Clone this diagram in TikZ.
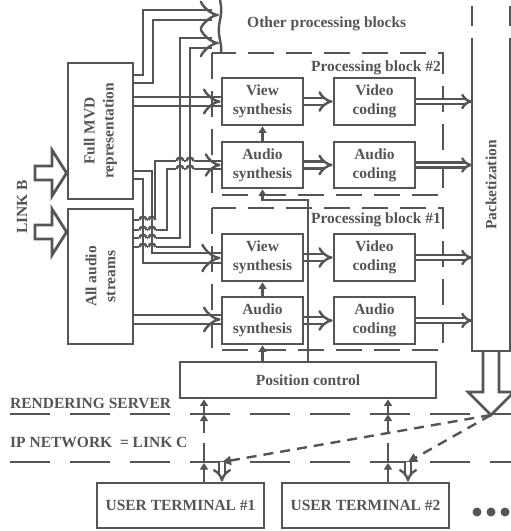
\documentclass[tikz,border=0pt]{standalone}
\usepackage{fontspec}
\setmainfont{Liberation Serif}
\usetikzlibrary{arrows.meta,calc}
\definecolor{ink}{RGB}{85,85,85}
\newcommand\hopmark[2]{%
  \fill[white] ({#1-3.8},{#2-1.6}) rectangle ({#1+3.8},{#2+1.6});
  \draw[conn] (#1,{#2-1.9}) -- (#1,{#2+1.9});
  \draw[conn] ({#1-3.4},#2) arc[start angle=180,end angle=0,radius=3.4pt];
}
\begin{document}
\begin{tikzpicture}[x=1pt,y=-1pt,
  font=\fontsize{15.5}{19}\selectfont\bfseries,
  box/.style={draw=ink, line width=2.8pt, inner sep=0pt, align=center, text=ink},
  lbl/.style={inner sep=0pt, align=center, text=ink},
  conn/.style={draw=ink, line width=2.4pt},
  sarrow/.style={conn, -{Triangle[length=6.5pt,width=8pt]}},
  dbl/.style={conn, double=white, double distance=#1, -{Implies}},
  sepline/.style={conn, dash pattern=on 40pt off 20pt},
  blk/.style={conn, dash pattern=on 26pt off 12pt},
  diag/.style={conn, dash pattern=on 10pt off 7pt, -{Triangle[length=9pt,width=9pt]}},
  hollow/.style={draw=ink, line width=2.8pt, fill=white}
]
\useasboundingbox (0,0) rectangle (511,531);

% separators
\draw[sepline] (10,414) -- (511,414);
\draw[sepline] (10,462) -- (511,462);

% processing blocks (dashed)
\draw[blk] (212,53) rectangle (443,195);
\draw[blk] (212,208) rectangle (443,350);

% boxes
\node[box, minimum width=65pt, minimum height=136pt] (mvd) at (100.5,131) {};
\node[box, minimum width=65pt, minimum height=135pt] (aud) at (100.5,276.5) {};
\node[lbl, rotate=90] (mvdl) at (mvd) {Full MVD\\representation};
\node[lbl, rotate=90] (audl) at (aud) {All audio\\streams};

\node[box, minimum width=81pt, minimum height=47pt] (vs2) at (262.5,101.5) {View\\synthesis};
\node[box, minimum width=81pt, minimum height=46pt] (as2) at (262.5,165) {Audio\\synthesis};
\node[box, minimum width=81pt, minimum height=47pt] (vc2) at (374.5,101.5) {Video\\coding};
\node[box, minimum width=81pt, minimum height=46pt] (ac2) at (374.5,165) {Audio\\coding};
\node[box, minimum width=81pt, minimum height=47pt] (vs1) at (262.5,257.5) {View\\synthesis};
\node[box, minimum width=81pt, minimum height=47pt] (as1) at (262.5,320.5) {Audio\\synthesis};
\node[box, minimum width=81pt, minimum height=47pt] (vc1) at (374.5,257.5) {Video\\coding};
\node[box, minimum width=81pt, minimum height=47pt] (ac1) at (374.5,320.5) {Audio\\coding};

\node[box, minimum width=256pt, minimum height=36pt] (pc) at (308,380) {Position control};
\node[box, minimum width=167pt, minimum height=45pt] (ut1) at (180.5,505.5) {USER TERMINAL \#1};
\node[box, minimum width=167pt, minimum height=45pt] (ut2) at (365.5,505.5) {USER TERMINAL \#2};

% packetization column
\coordinate (pkL) at (472,38);
\coordinate (pkR) at (510,38);
\draw[draw=ink, line width=2.8pt] (472,351) -- (pkL);
\draw[draw=ink, line width=2.8pt] (510,351) -- (pkR);
\draw[draw=ink, line width=2.8pt] (470.6,351) -- (511.4,351);
\draw[draw=ink, line width=2.8pt] (472,6) -- (472,26);
\draw[draw=ink, line width=2.8pt] (510,6) -- (510,26);
\node[lbl, rotate=90] (pk) at (491,185) {Packetization};
% big hollow arrow
\coordinate (tip) at (491,415);
\draw[draw=ink, line width=2.8pt, line join=miter] (483,351) -- (483,392) -- (468,392) -- (tip) -- (514,392) -- (499,392) -- (499,351);

% LINK B arrows
\draw[hollow] (35,166) -- (52,166) -- (52,150) -- (mvd.west |- 0,173) -- (52,196) -- (52,180) -- (35,180) -- cycle;
\draw[hollow] (35,225) -- (52,225) -- (52,209) -- (aud.west |- 0,232) -- (52,255) -- (52,239) -- (35,239) -- cycle;
\node[lbl, rotate=90] (linkb) at (22,207) {LINK B};

% wavy cut line
\draw[conn] plot[domain=0:52, samples=60, smooth] ({220+1.2*sin(\x*9)}, \x);
\node[lbl, anchor=base west] (opb) at (247,27) {Other processing blocks};

% Full MVD -> other blocks
\draw[conn] (mvd.east |- 0,75) -| (143,10) -- (212,10);
\draw[conn] (mvd.east |- 0,83) -| (153,20) -- (212,20);
\draw[dbl=7.6pt] (207,15) -- (219,15);
% All audio -> other blocks
\draw[conn] (aud.east |- 0,238) -| (180,38) -- (212,38);
\draw[conn] (aud.east |- 0,247) -| (190,48) -- (212,48);
\draw[dbl=7.6pt] (207,43) -- (219,43);

% Full MVD -> View synthesis #2
\draw[conn] (mvd.east |- 0,97) -- (vs2.west |- 0,97);
\draw[conn] (mvd.east |- 0,106) -- (vs2.west |- 0,106);
\draw[dbl=6.6pt] (211,101.5) -- (vs2.west);
% Full MVD -> View synthesis #1
\draw[conn] (mvd.east |- 0,171) -| (152,253) -- (vs1.west |- 0,253);
\draw[conn] (mvd.east |- 0,179) -| (143,263) -- (vs1.west |- 0,263);
\draw[dbl=7.6pt] (211,258) -- (vs1.west |- 0,258);
% All audio -> Audio synthesis #2
\draw[conn] (aud.east |- 0,220) -| (155,161) -- (as2.west |- 0,161);
\draw[conn] (aud.east |- 0,230) -| (167,169) -- (as2.west |- 0,169);
\draw[dbl=5.6pt] (211,165) -- (as2.west);
% All audio -> Audio synthesis #1
\draw[conn] (aud.east |- 0,315) -- (as1.west |- 0,315);
\draw[conn] (aud.east |- 0,324) -- (as1.west |- 0,324);
\draw[dbl=6.6pt] (211,319.5) -- (as1.west |- 0,319.5);

% line hops
\foreach \hx in {143,152} {\foreach \hy in {220,230,238,247} {\hopmark{\hx}{\hy}}}
\foreach \hx in {180,190} {\foreach \hy in {161,169} {\hopmark{\hx}{\hy}}}

% synthesis -> coding
\draw[dbl=4.6pt] (vs2) -- (vc2);
\draw[dbl=4.6pt] (as2) -- (ac2);
\draw[dbl=4.6pt] (vs1) -- (vc1);
\draw[dbl=4.6pt] (as1) -- (ac1);
% coding -> packetization
\draw[dbl=2.6pt] (vc2) -- (vc2 -| pkL);
\draw[dbl=2.6pt] (ac2) -- (ac2 -| pkL);
\draw[dbl=2.6pt] (vc1) -- (vc1 -| pkL);
\draw[dbl=2.6pt] (ac1) -- (ac1 -| pkL);

% audio synthesis -> view synthesis
\draw[sarrow] (as2) -- (vs2);
\draw[sarrow] (as1) -- (vs1);
% position control -> audio synthesis
\draw[sarrow] (pc.north -| as1.south) -- (as1.south);
\draw[sarrow] (pc.north) -- (pc.north |- 0,200) -| (as2.south);

% user terminals -> position control
\foreach \ux/\ut in {204/ut1, 388/ut2} {
  \draw[sarrow] (\ut.north -| \ux,0) -- (\ux,463);
  \draw[conn] (\ux,463) -- (\ux,443);
  \draw[sarrow] (\ux,433) -- (\ux,414.5);
  \draw[sarrow] (\ux,414) -- (pc.south -| \ux,0);
}

% stream delivery to user terminals
\coordinate (d1) at (222,462);
\coordinate (d2) at (408,462);
\draw[diag] (tip) -- (d1);
\draw[diag] (tip) -- (d2);
\draw[dbl=3.6pt] (d1) -- (d1 |- ut1.north);
\draw[dbl=3.6pt] (d2) -- (d2 |- ut2.north);

% labels
\node[lbl, anchor=base east] (pb2) at (441,71) {Processing block \#2};
\node[lbl, anchor=base east] (pb1) at (441,223) {Processing block \#1};
\node[lbl, anchor=base west] (rs) at (10,408) {RENDERING SERVER};
\node[lbl, anchor=base west] (ipn) at (10,447) {IP NETWORK\ \ = LINK C};

% more terminals
\fill[ink] (477,512) circle[radius=4.5pt];
\fill[ink] (491,512) circle[radius=4.5pt];
\fill[ink] (505,512) circle[radius=4.5pt];
\end{tikzpicture}
\end{document}
